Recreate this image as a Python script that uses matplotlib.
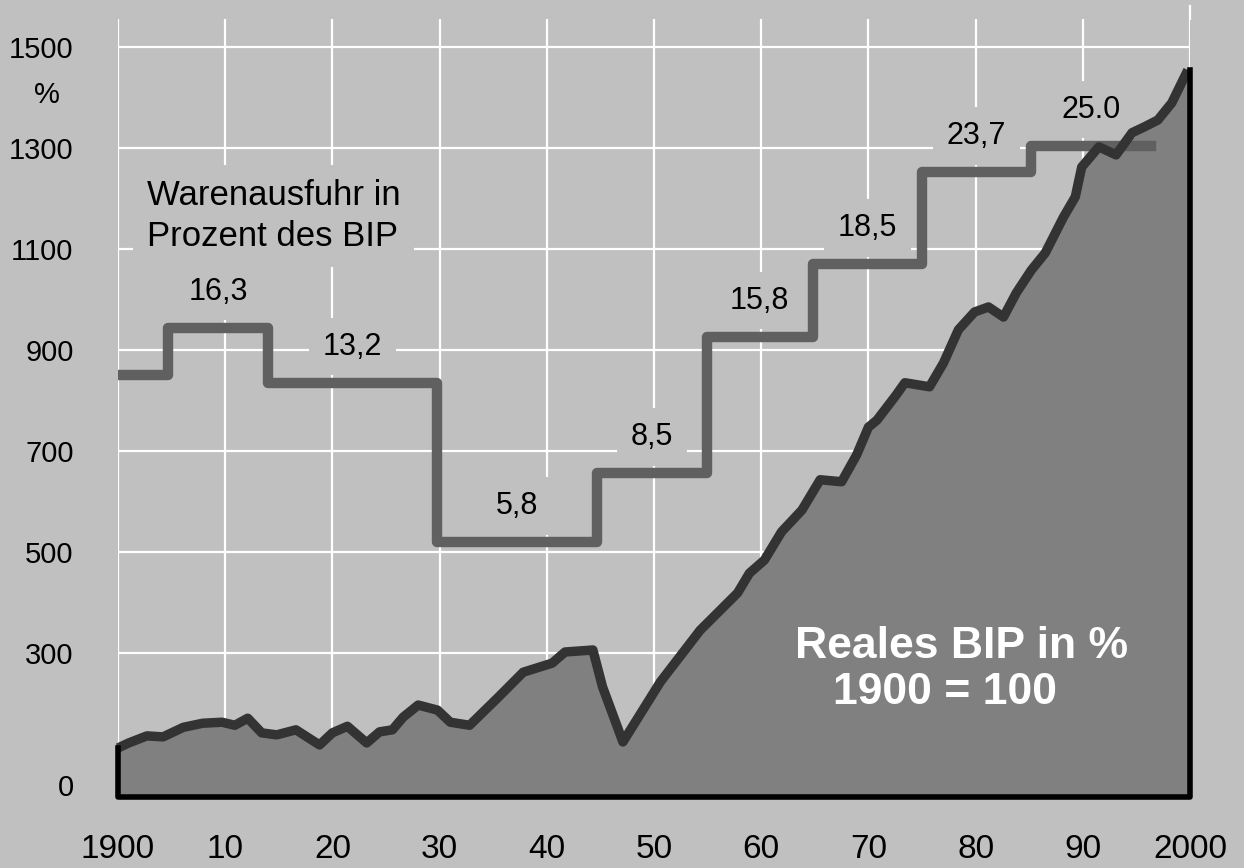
import matplotlib
matplotlib.use("Agg")
import matplotlib.pyplot as plt

plt.rcParams["font.family"] = ["Liberation Sans", "DejaVu Sans"]

# Reales BIP (1900 = 100)
bip_jahre = [1900, 1901, 1902.7, 1904.2, 1906.1, 1907.9, 1909.7, 1910.9, 1912.1, 1913.4,
             1914.8, 1916.6, 1918.8, 1920, 1921.4, 1923.2, 1924.4, 1925.6, 1926.6, 1928,
             1929.8, 1931, 1932.8, 1935.5, 1937.8, 1940.5, 1941.7, 1944.3, 1945.2, 1947.1,
             1950.6, 1954.3, 1957.8, 1958.9, 1960.3, 1961.9, 1963.8, 1965.5, 1967.5, 1968.9,
             1970.0, 1970.8, 1972.6, 1973.4, 1975.7, 1977.0, 1978.4, 1979.9, 1981.2, 1982.6,
             1983.8, 1985.2, 1986.5, 1988.2, 1989.3, 1989.9, 1991.5, 1993.1, 1994.6, 1995.7,
             1997.0, 1998.3, 1999.8]
bip_werte = [112, 122, 136, 134, 153, 161, 163, 157, 171, 142,
             138, 148, 118, 142, 155, 122, 144, 148, 173, 197,
             187, 163, 157, 213, 262, 280, 302, 306, 233, 124,
             243, 345, 419, 458, 484, 540, 583, 643, 639, 692,
             747, 761, 811, 835, 827, 874, 940, 975, 985, 965,
             1013, 1058, 1092, 1163, 1203, 1262, 1302, 1286, 1330, 1341,
             1355, 1389, 1454]

# Warenausfuhr in % des BIP (Stufen, in Diagrammeinheiten)
export_grenzen = [1900, 1904.7, 1914.0, 1929.8, 1944.7, 1954.9, 1964.8, 1975.0, 1985.2, 1996.4]
export_niveau = [850, 944, 835, 520, 656, 926, 1070, 1252, 1304]
export_labels = ["", "16,3", "13,2", "5,8", "8,5", "15,8", "18,5", "23,7", "25.0"]

y_ticks = [39, 300, 500, 700, 900, 1100, 1300, 1500]
y_ticklabels = ["0", "300", "500", "700", "900", "1100", "1300", "1500"]
x_ticks = list(range(1900, 2001, 10))
x_ticklabels = ["1900", "10", "20", "30", "40", "50", "60", "70", "80", "90", "2000"]

HG = "#c0c0c0"
Y_UNTEN, Y_OBEN = 15, 1555

fig = plt.figure(figsize=(12.44, 8.68), dpi=100, facecolor=HG)
ax = fig.add_axes([118 / 1244, 71 / 868, 1072 / 1244, 778 / 868])
ax.set_facecolor(HG)
for s in ax.spines.values():
    s.set_visible(False)

ax.set_xlim(1900, 2000)
ax.set_ylim(Y_UNTEN, Y_OBEN)

# Gitter
for y in y_ticks[1:]:
    ax.axhline(y, color="white", lw=1.6, zorder=0.5)
ax.set_xticks(x_ticks, x_ticklabels)
ax.set_yticks(y_ticks, y_ticklabels)
ax.grid(axis="x", color="white", lw=1.6, zorder=0.5)
ax.set_axisbelow(True)
ax.plot([2000, 2000], [Y_OBEN, Y_OBEN + 26], color="white", lw=1.6, clip_on=False, zorder=0.5)
ax.tick_params(axis="x", length=0, pad=27, labelsize=24)
ax.tick_params(axis="y", length=0, pad=32, labelsize=21)

# BIP-Fläche
ax.fill_between(bip_jahre, bip_werte, Y_UNTEN, color="#808080", lw=0, zorder=1)

# Warenausfuhr-Treppe
ax.plot(export_grenzen, export_niveau + [export_niveau[-1]], drawstyle="steps-post",
        color="#606060", lw=7.5, solid_joinstyle="round", zorder=2)

for i, txt in enumerate(export_labels):
    if not txt:
        continue
    xm = (export_grenzen[i] + export_grenzen[i + 1]) / 2
    ax.annotate(txt, (xm, export_niveau[i]), xytext=(0, 26), textcoords="offset points",
                ha="center", va="center", fontsize=22, zorder=3,
                bbox=dict(boxstyle="square,pad=0.45", fc=HG, ec="none"))

# BIP-Linie und Rahmen
ax.plot(bip_jahre, bip_werte, color="#333333", lw=6.8, solid_joinstyle="round",
        solid_capstyle="butt", zorder=4, clip_on=False)
ax.plot([1900, 1900, 2000, 2000], [bip_werte[0], Y_UNTEN, Y_UNTEN, bip_werte[-1]],
        color="black", lw=4, zorder=4, clip_on=False)

ax.text(1902.7, 1165, "Warenausfuhr in\nProzent des BIP", ha="left", va="center",
        fontsize=25, linespacing=1.3, zorder=3,
        bbox=dict(boxstyle="square,pad=0.4", fc=HG, ec="none"))
ax.text(1978.7, 312, "Reales BIP in %", ha="center", va="center", fontsize=32,
        fontweight="bold", color="white", zorder=5)
ax.text(1977.1, 221, "1900 = 100", ha="center", va="center", fontsize=32,
        fontweight="bold", color="white", zorder=5)

fig.text(47 / 1244, 1 - 95 / 868, "%", ha="center", va="center", fontsize=21)

fig.savefig("out.png", dpi=100, facecolor=HG)
